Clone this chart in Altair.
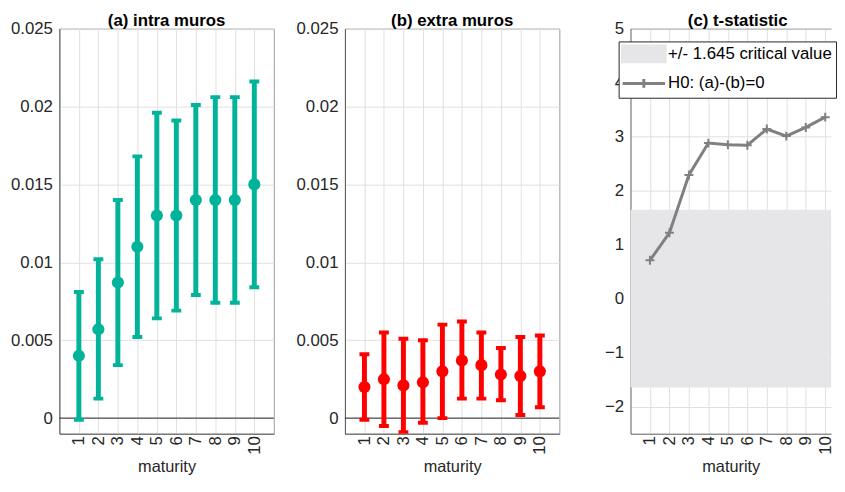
import altair as alt
import pandas as pd

# ---- data ----
maturity = list(range(1, 11))
intra_mean = [0.0040, 0.0057, 0.0087, 0.0110, 0.0130, 0.0130, 0.0140, 0.0140, 0.0140, 0.0150]
intra_lo = [-0.0001, 0.00125, 0.0034, 0.0052, 0.0064, 0.0069, 0.0079, 0.0074, 0.0074, 0.0084]
intra_hi = [0.0081, 0.0102, 0.0140, 0.0168, 0.0196, 0.0191, 0.0201, 0.0206, 0.0206, 0.0216]
extra_mean = [0.0020, 0.0025, 0.0021, 0.0023, 0.0030, 0.0037, 0.0034, 0.0028, 0.0027, 0.0030]
extra_lo = [-0.0001, -0.0005, -0.0009, -0.0003, 0.0000, 0.00125, 0.00125, 0.00115, 0.0002, 0.0007]
extra_hi = [0.0041, 0.0055, 0.0051, 0.0050, 0.0060, 0.0062, 0.0055, 0.0045, 0.0052, 0.0053]
t_stat = [0.71, 1.22, 2.29, 2.88, 2.85, 2.84, 3.14, 3.01, 3.17, 3.36]
crit_lo, crit_hi = -1.645, 1.645
band_label = "+/- 1.645 critical value"
line_label = "H0: (a)-(b)=0"
ab_ticks = [0, 0.005, 0.01, 0.015, 0.02, 0.025]
c_ticks = [-2, -1, 0, 1, 2, 3, 4, 5]

GREEN = "#00b399"
RED = "#ff0000"
GRAY = "#808080"
BAND = "#e6e5e8"
TXT = "#262626"
FRAME = "#9a9a9a"
GRID = "#e0e0e0"
FONT = "Liberation Sans"

intra_df = pd.DataFrame({"maturity": maturity, "mean": intra_mean, "lo": intra_lo, "hi": intra_hi})
extra_df = pd.DataFrame({"maturity": maturity, "mean": extra_mean, "lo": extra_lo, "hi": extra_hi})
t_df = pd.DataFrame({"maturity": maturity, "t": t_stat, "series": [line_label] * 10})
band_df = pd.DataFrame({"lo": [crit_lo], "hi": [crit_hi], "series": [band_label]})
zero_df = pd.DataFrame({"y": [0.0]})

W, H = 217, 410
TITLE_OFFSET = -10


def xenc(dmax=11):
    return alt.X(
        "maturity:Q",
        scale=alt.Scale(domain=[0, dmax], nice=False, zero=False),
        axis=alt.Axis(values=maturity, format="d", labelAngle=270, title="maturity",
                      grid=True, ticks=False, labelPadding=2, titlePadding=4),
    )


def yenc(field, domain, values, fmt, top_frame=False):
    kw = {}
    if top_frame:
        kw["gridColor"] = {"condition": {"test": "datum.value === %s" % values[-1], "value": FRAME},
                           "value": GRID}
    return alt.Y(
        field,
        scale=alt.Scale(domain=domain, nice=False, zero=False),
        axis=alt.Axis(values=values, format=fmt, title=None, ticks=False, labelPadding=7,
                      minExtent=51, maxExtent=51, **kw),
    )


def errpanel(df, color, title):
    dom = [-0.001, 0.025]
    base = alt.Chart(df)
    zero = alt.Chart(zero_df).mark_rule(color=TXT, strokeWidth=1).encode(
        y=yenc("y:Q", dom, ab_ticks, "~g"))
    bars = base.mark_rule(color=color, strokeWidth=5, clip=True).encode(
        x=xenc(), y=yenc("lo:Q", dom, ab_ticks, "~g"), y2="hi:Q")
    cap_lo = base.mark_tick(color=color, orient="horizontal", size=10, thickness=4, opacity=1, clip=True).encode(
        x=xenc(), y=yenc("lo:Q", dom, ab_ticks, "~g"))
    cap_hi = base.mark_tick(color=color, orient="horizontal", size=10, thickness=4, opacity=1, clip=True).encode(
        x=xenc(), y=yenc("hi:Q", dom, ab_ticks, "~g"))
    pts = base.mark_circle(color=color, size=150, opacity=1).encode(
        x=xenc(), y=yenc("mean:Q", dom, ab_ticks, "~g"))
    return alt.layer(zero, bars, cap_lo, cap_hi, pts).properties(
        width=W, height=H,
        title=alt.TitleParams(title, fontSize=17, fontWeight="bold", color="black",
                              offset=TITLE_OFFSET, frame="group", anchor="middle"),
    )


panel_a = errpanel(intra_df, GREEN, "(a) intra muros")
panel_b = errpanel(extra_df, RED, "(b) extra muros")

# ---- panel c (cut at the right edge like the reference) ----
c_dom = [-2.5, 5]
c_xmax = 10.3
WC = 203
color_scale = alt.Scale(domain=[band_label, line_label], range=[BAND, GRAY])
is_line = "datum.value === '%s'" % line_label
legend = alt.Legend(
    title=None, orient="none", legendX=-12, legendY=13,
    fillColor="white", strokeColor=TXT, padding=4, labelFontSize=17, labelColor="black",
    labelFont=FONT, labelLimit=400, symbolSize=100, symbolOffset=13, labelOffset=16, rowPadding=5,
    symbolType=alt.ExprRef(expr="%s ? 'M-4.3,0H4.3M0,-0.9V0.9' : 'M-4.3,-1.6H4.3V1.6H-4.3Z'" % is_line),
    symbolStrokeColor=alt.ExprRef(expr="%s ? '%s' : 'transparent'" % (is_line, GRAY)),
    symbolFillColor=alt.ExprRef(expr="%s ? 'transparent' : '%s'" % (is_line, BAND)),
    symbolStrokeWidth=3, symbolOpacity=1,
)

band = alt.Chart(band_df).mark_rect(opacity=1).encode(
    y=yenc("lo:Q", c_dom, c_ticks, "d", True), y2="hi:Q",
    color=alt.Color("series:N", scale=color_scale, legend=legend),
)
tline = alt.Chart(t_df).mark_line(strokeWidth=3).encode(
    x=xenc(c_xmax), y=yenc("t:Q", c_dom, c_ticks, "d", True),
    color=alt.Color("series:N", scale=color_scale, legend=legend),
)
tpts = alt.Chart(t_df).mark_point(shape="M-1,0H1M0,-1V1", size=81, filled=False,
                                  color=GRAY, strokeWidth=2, opacity=1).encode(
    x=xenc(c_xmax), y=yenc("t:Q", c_dom, c_ticks, "d", True))

panel_c = alt.layer(band, tline, tpts).properties(
    width=WC, height=H,
    view=alt.ViewBackground(stroke="transparent"),
    title=alt.TitleParams("(c)  t-statistic", fontSize=17, fontWeight="bold", color="black",
                          offset=TITLE_OFFSET, frame="group", anchor="middle", dx=7),
)

chart = alt.hconcat(panel_a, panel_b, panel_c, spacing=19).resolve_scale(
    color="independent"
).properties(padding=0).configure(font=FONT).configure_axis(
    labelFont=FONT, labelFontSize=17, labelColor=TXT, titleFont=FONT, titleFontSize=16.5,
    titleFontWeight="normal", titleColor=TXT, domainColor="#5a5a5a", gridColor=GRID,
    gridWidth=1,
).configure_view(stroke=FRAME).configure_title(font=FONT)

chart.save("out.html", embed_options={"renderer": "svg", "actions": False})
